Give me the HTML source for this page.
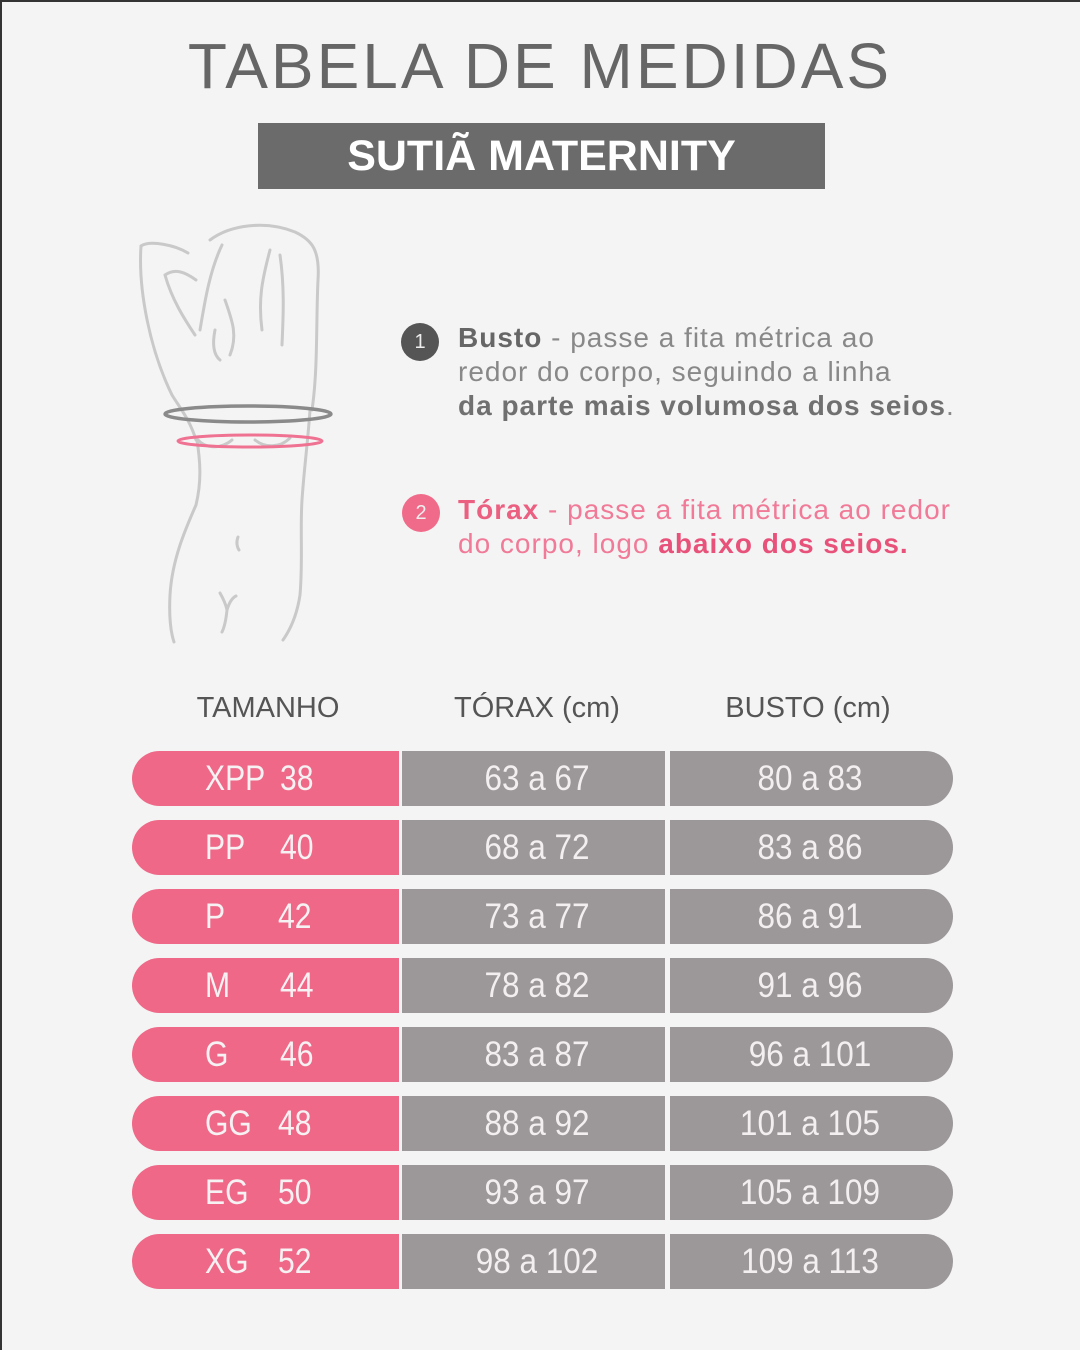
<!DOCTYPE html>
<html><head><meta charset="utf-8">
<style>
html,body{margin:0;padding:0}
body{width:1080px;height:1350px;background:#f4f4f4;position:relative;overflow:hidden;font-family:"Liberation Sans",sans-serif}
.bt{position:absolute;left:0;top:0;width:1080px;height:2px;background:#333}
.bl{position:absolute;left:0;top:0;width:2px;height:1350px;background:#333}
.title{position:absolute;left:0;width:1080px;top:30px;text-align:center;font-size:64px;letter-spacing:3px;color:#666;line-height:72px;padding-left:0}
.box{position:absolute;left:258px;top:123px;width:567px;height:66px;background:#6b6b6b;color:#fff;font-weight:bold;font-size:43px;line-height:66px;text-align:center}
.circ{position:absolute;width:38px;height:38px;border-radius:50%;color:#eee;font-size:20px;line-height:38px;text-align:center}
.ins{position:absolute;left:458px;font-size:28px;letter-spacing:1px;line-height:34px;white-space:nowrap}
.hd{position:absolute;top:690px;font-size:29px;color:#555;line-height:36px;text-align:center}
.row{position:absolute;left:132px;width:821px;height:55px}
.pk{position:absolute;left:0;top:0;width:267px;height:55px;background:#ef6887;border-radius:28px 0 0 28px}
.g1{position:absolute;left:270px;top:0;width:263px;height:55px;background:#9c989a}
.g2{position:absolute;left:538px;top:0;width:283px;height:55px;background:#9c989a;border-radius:0 28px 28px 0}
.t{position:absolute;top:0;line-height:55px;font-size:35px;color:#f6f1f3;white-space:nowrap;transform:scaleX(0.86);transform-origin:left center}
.c{position:absolute;top:0;line-height:55px;font-size:35px;color:#f3eff0;white-space:nowrap;width:300px;text-align:center;transform:scaleX(0.9)}
</style></head><body>
<div class="bt"></div><div class="bl"></div>
<div class="title">TABELA DE MEDIDAS</div>
<div class="box">SUTIÃ MATERNITY</div>

<svg style="position:absolute;left:120px;top:210px" width="230" height="450" viewBox="120 210 230 450">
<g fill="none" stroke="#c9c9c9" stroke-width="3" stroke-linecap="round">
<path d="M141,246 C150,240 175,245 188,253"/>
<path d="M141,246 C138,290 150,350 172,395 C180,408 190,420 196,440"/>
<path d="M165,275 C175,268 185,272 196,280 M165,275 C172,300 185,320 195,335"/>
<path d="M210,240 C230,225 265,220 295,232 C312,240 320,250 318,280 C316,320 318,370 312,410"/>
<path d="M222,245 C210,270 205,300 200,330"/>
<path d="M270,250 C262,280 258,300 262,330 M280,255 C285,290 283,320 282,345"/>
<path d="M225,300 C232,320 238,335 230,355 M215,330 C212,345 214,355 220,360"/>
<path d="M197,440 C200,460 202,480 196,505 C185,530 172,560 170,595 C169,615 170,630 174,642"/>
<path d="M310,410 C308,440 304,470 302,500 C300,530 303,560 300,595 C297,615 290,630 283,640"/>
<path d="M198,440 C205,448 220,450 232,440 M255,440 C265,448 280,448 290,438"/>
<path d="M238,537 C236,542 237,547 239,550"/>
<path d="M220,593 C224,600 226,605 227,610 C229,603 232,598 236,596 M227,610 C226,620 224,628 222,632"/>
</g>
<ellipse cx="248" cy="414" rx="83" ry="8" fill="none" stroke="#8a8a8a" stroke-width="3.5"/>
<ellipse cx="250" cy="441" rx="72" ry="6" fill="none" stroke="#f07292" stroke-width="3"/>
</svg>

<div class="circ" style="left:401px;top:323px;background:#555">1</div>
<div class="ins" style="top:321px;color:#888"><b style="color:#666">Busto</b> - passe a fita métrica ao</div>
<div class="ins" style="top:355px;color:#888">redor do corpo, seguindo a linha</div>
<div class="ins" style="top:389px;color:#888"><b style="color:#707070">da parte mais volumosa dos seios</b>.</div>

<div class="circ" style="left:402px;top:494px;background:#f06b8a">2</div>
<div class="ins" style="top:493px;color:#f07a97"><b style="color:#eb5f81">Tórax</b> - passe a fita métrica ao redor</div>
<div class="ins" style="top:527px;color:#f07a97">do corpo, logo <b style="color:#e8527a">abaixo dos seios.</b></div>

<div class="hd" style="left:168px;width:200px">TAMANHO</div>
<div class="hd" style="left:437px;width:200px">TÓRAX (cm)</div>
<div class="hd" style="left:708px;width:200px">BUSTO (cm)</div>

<div class="row" style="top:751px"><div class="pk"><span class="t" style="left:73px">XPP</span><span class="t" style="left:148px">38</span></div><div class="g1"><span class="c" style="left:-15px">63 a 67</span></div><div class="g2"><span class="c" style="left:-10px">80 a 83</span></div></div>
<div class="row" style="top:820px"><div class="pk"><span class="t" style="left:73px">PP</span><span class="t" style="left:148px">40</span></div><div class="g1"><span class="c" style="left:-15px">68 a 72</span></div><div class="g2"><span class="c" style="left:-10px">83 a 86</span></div></div>
<div class="row" style="top:889px"><div class="pk"><span class="t" style="left:73px">P</span><span class="t" style="left:146px">42</span></div><div class="g1"><span class="c" style="left:-15px">73 a 77</span></div><div class="g2"><span class="c" style="left:-10px">86 a 91</span></div></div>
<div class="row" style="top:958px"><div class="pk"><span class="t" style="left:73px">M</span><span class="t" style="left:148px">44</span></div><div class="g1"><span class="c" style="left:-15px">78 a 82</span></div><div class="g2"><span class="c" style="left:-10px">91 a 96</span></div></div>
<div class="row" style="top:1027px"><div class="pk"><span class="t" style="left:73px">G</span><span class="t" style="left:148px">46</span></div><div class="g1"><span class="c" style="left:-15px">83 a 87</span></div><div class="g2"><span class="c" style="left:-10px">96 a 101</span></div></div>
<div class="row" style="top:1096px"><div class="pk"><span class="t" style="left:73px">GG</span><span class="t" style="left:146px">48</span></div><div class="g1"><span class="c" style="left:-15px">88 a 92</span></div><div class="g2"><span class="c" style="left:-10px">101 a 105</span></div></div>
<div class="row" style="top:1165px"><div class="pk"><span class="t" style="left:73px">EG</span><span class="t" style="left:146px">50</span></div><div class="g1"><span class="c" style="left:-15px">93 a 97</span></div><div class="g2"><span class="c" style="left:-10px">105 a 109</span></div></div>
<div class="row" style="top:1234px"><div class="pk"><span class="t" style="left:73px">XG</span><span class="t" style="left:146px">52</span></div><div class="g1"><span class="c" style="left:-15px">98 a 102</span></div><div class="g2"><span class="c" style="left:-10px">109 a 113</span></div></div>
</body></html>
